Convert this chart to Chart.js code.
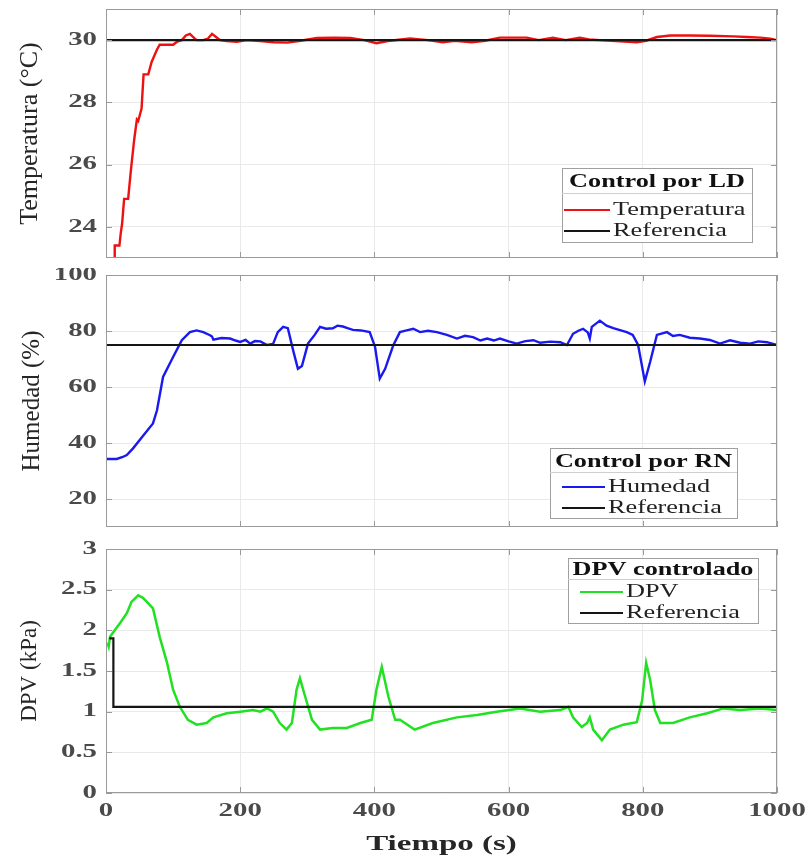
<!DOCTYPE html>
<html><head><meta charset="utf-8">
<script src="https://cdn.jsdelivr.net/npm/chart.js@4.4.0/dist/chart.umd.min.js"></script>
<style>
html,body{margin:0;padding:0;background:#fff;}
#wrap{position:relative;width:808px;height:859px;overflow:hidden;background:#fff;}
canvas{position:absolute;left:0;}
</style></head><body>
<div id="wrap">
<canvas id="c1" width="808" height="268" style="top:0px"></canvas>
<canvas id="c2" width="808" height="268" style="top:268px"></canvas>
<canvas id="c3" width="808" height="323" style="top:536px"></canvas>
</div>
<script>
// ---------- DATA ----------
const X_TICKS = [0, 200, 400, 600, 800, 1000];
const TEMP_TICKS = [24, 26, 28, 30];
const HUM_TICKS = [20, 40, 60, 80, 100];
const DPV_TICKS = [0, 0.5, 1, 1.5, 2, 2.5, 3];

const TEMP_T = [12,13,20,22,24,27,28,33,37,42, 46,48,53,56,63,68,72,76,80,90,
  100,106,113,119,125,130,135,145,152,158, 164,170,180,195,210,230,250,270,290,314,
  340,364,385,403,420,453,480,502,520,545, 565,587,610,627,645,666,685,706,720,736,
  760,791,805,821,841,870,900,935,955,975, 990,1000];
const TEMP_V = [22.9,23.4,23.4,23.8,24.1,24.9,24.9,24.9,25.8,26.8, 27.45,27.4,27.8,28.9,28.9,29.3,29.5,29.7,29.85,29.85,
  29.85,29.95,30.0,30.15,30.2,30.1,30.0,30.0,30.05,30.2, 30.1,30.0,29.97,29.95,30.0,29.97,29.93,29.92,29.98,30.07,
  30.08,30.07,30.0,29.9,29.97,30.05,30.0,29.93,29.98,29.93, 29.98,30.08,30.08,30.08,30.0,30.08,30.0,30.08,30.02,30.0,
  29.97,29.93,29.98,30.1,30.15,30.15,30.14,30.12,30.1,30.08, 30.05,30.0];
const TEMP_REF_T = [0, 1000];
const TEMP_REF_V = [30, 30];

const HUM_T = [0,16,25,31,40,55,70,76,85,100, 113,125,135,145,155,158,160,172,185,193,
  200,208,215,222,230,240,249,256,264,271, 279,286,292,301,311,319,328,338,345,353,
  360,368,380,393,401,408,416,428,438,448, 458,468,480,493,508,523,535,547,558,568,
  578,587,600,612,625,637,647,662,677,687, 696,704,711,718,721,724,736,746,756,766,
  776,785,793,803,811,821,836,845,855,870, 885,900,915,930,945,960,972,985,1000];
const HUM_V = [34.3,34.3,35,35.7,38,42.5,47,51.7,63.6,70.7, 76.7,79.6,80.2,79.6,78.5,78,76.9,77.5,77.3,76.6,
  76.1,76.8,75.5,76.4,76.3,75,75.4,79.6,81.5,81, 73,66.5,67.5,75.5,78.6,81.5,80.8,81,81.9,81.6,
  81,80.4,80.2,79.6,74.3,63,66.5,74.8,79.6,80.2, 80.8,79.6,80.1,79.6,78.6,77.3,78.3,77.8,76.6,77.3,
  76.6,77.3,76.3,75.5,76.4,76.7,75.8,76.2,76,75, 79,80.1,80.8,79.5,77.3,81.5,83.7,81.9,81,80.3,
  79.6,78.6,75,62,69,78.6,79.6,78.2,78.6,77.6, 77.3,76.8,75.5,76.7,75.8,75.5,76.3,76,75];
const HUM_REF_T = [0, 1000];
const HUM_REF_V = [75, 75];

const DPV_T = [2,4,6,13,21,31,38,48,55,61, 70,80,91,100,110,122,135,150,160,180,
  200,219,230,240,249,259,269,277,284,289, 297,307,319,338,359,379,396,403,411,421,
  431,438,460,487,523,553,582,617,647,677, 689,696,709,717,721,726,739,751,771,791,
  799,805,811,818,826,845,870,896,920,945, 975,1000];
const DPV_V = [1.85,1.8,1.92,2.0,2.09,2.21,2.35,2.43,2.4,2.35, 2.27,1.92,1.6,1.27,1.06,0.9,0.84,0.86,0.93,0.98,
  1.0,1.02,1.0,1.04,1.0,0.86,0.78,0.86,1.27,1.41, 1.18,0.9,0.78,0.8,0.8,0.86,0.9,1.27,1.55,1.18,
  0.9,0.9,0.78,0.86,0.93,0.96,1.0,1.04,1.0,1.02, 1.06,0.93,0.81,0.86,0.93,0.78,0.65,0.78,0.84,0.87,
  1.14,1.6,1.39,1.02,0.86,0.86,0.93,0.98,1.04,1.02, 1.04,1.02];
const DPV_REF_T = [5, 11, 11, 1000];
const DPV_REF_V = [1.9, 1.9, 1.06, 1.06];

// ---------- DRAWING HELPERS ----------
const SERIF = '"Liberation Serif","Times New Roman",serif';
function pts(ts, vs){ return ts.map((t,i)=>({x:t, y:vs[i]})); }
function sText(ctx, text, x, y, font, color, align, sx){
  ctx.save();
  ctx.font = font; ctx.fillStyle = color; ctx.textBaseline = 'middle'; ctx.textAlign = 'left';
  const w = ctx.measureText(text).width * sx;
  const left = align === 'right' ? x - w : (align === 'center' ? x - w/2 : x);
  ctx.translate(left, y); ctx.scale(sx, 1); ctx.fillText(text, 0, 0);
  ctx.restore();
}
const framePlugin = {
  id: 'frame',
  afterDraw(chart, args, o){
    const ctx = chart.ctx, a = chart.chartArea, xs = chart.scales.x, ys = chart.scales.y;
    ctx.save();
    ctx.strokeStyle = '#9a9a9a'; ctx.lineWidth = 1;
    ctx.strokeRect(a.left + 0.5, a.top + 0.5, a.right - a.left - 1, a.bottom - a.top - 1);
    ctx.beginPath();
    ys.ticks.forEach(t => { const p = Math.round(ys.getPixelForValue(t.value)) + 0.5;
      ctx.moveTo(a.left, p); ctx.lineTo(a.left + 6, p); ctx.moveTo(a.right, p); ctx.lineTo(a.right - 6, p); });
    xs.ticks.forEach(t => { const p = Math.round(xs.getPixelForValue(t.value)) + 0.5;
      ctx.moveTo(p, a.top); ctx.lineTo(p, a.top + 6); ctx.moveTo(p, a.bottom); ctx.lineTo(p, a.bottom - 6); });
    ctx.stroke();
    ctx.restore();
    ys.ticks.forEach(t => sText(ctx, String(t.value), 97, ys.getPixelForValue(t.value), 'bold 18px ' + SERIF, '#4a4a4a', 'right', 1.6));
    if (o.xLabels){
      xs.ticks.forEach(t => sText(ctx, String(t.value), xs.getPixelForValue(t.value), o.xLabelY, 'bold 18px ' + SERIF, '#4a4a4a', 'center', 1.6));
      sText(ctx, o.xTitle, (a.left + a.right)/2, o.xTitleY, 'bold 22px ' + SERIF, '#262626', 'center', 1.5);
    }
    const L = o.legend;
    if (L){
      ctx.save();
      ctx.fillStyle = '#fff'; ctx.fillRect(L.x, L.y, L.w, L.h);
      ctx.strokeStyle = '#a0a0a0'; ctx.lineWidth = 1; ctx.strokeRect(L.x + 0.5, L.y + 0.5, L.w, L.h);
      ctx.strokeStyle = '#cfcfcf'; ctx.beginPath(); ctx.moveTo(L.x, L.sepY + 0.5); ctx.lineTo(L.x + L.w, L.sepY + 0.5); ctx.stroke();
      ctx.restore();
      sText(ctx, L.title, L.x + L.w/2, L.titleY, 'bold 19px ' + SERIF, '#111', 'center', 1.38);
      chart.data.datasets.forEach((ds, i) => {
        const y = L.rows[i];
        ctx.save(); ctx.strokeStyle = ds.borderColor; ctx.lineWidth = 2;
        ctx.beginPath(); ctx.moveTo(L.lx1, y); ctx.lineTo(L.lx2, y); ctx.stroke(); ctx.restore();
        sText(ctx, ds.label, L.tx, y, '18px ' + SERIF, '#222', 'left', 1.46);
      });
    }
  }
};

function makeChart(id, c){
  return new Chart(document.getElementById(id), {
    type: 'line',
    data: { datasets: c.datasets },
    options: {
      responsive: false, animation: false, devicePixelRatio: 1,
      layout: { padding: { left: 0, right: 31, top: c.padTop, bottom: c.padBottom } },
      elements: { point: { radius: 0 }, line: { tension: 0 } },
      scales: {
        x: { type: 'linear', min: 0, max: 1000,
          afterBuildTicks: s => { s.ticks = X_TICKS.map(v => ({ value: v })); },
          afterFit: s => { s.height = 0; },
          ticks: { display: false },
          grid: { color: '#e9e9e9', drawTicks: false }, border: { display: false } },
        y: { type: 'linear', min: c.yMin, max: c.yMax,
          afterBuildTicks: s => { s.ticks = c.yTicks.map(v => ({ value: v })); },
          afterFit: s => { s.width = 106; },
          ticks: { display: false },
          grid: { color: '#e9e9e9', drawTicks: false }, border: { display: false },
          title: { display: true, text: c.yTitle, color: '#262626',
            font: { family: SERIF, size: c.yTitleSize }, padding: { top: c.yTitlePad, bottom: 0 } } }
      },
      plugins: {
        legend: { display: false }, tooltip: { enabled: false },
        frame: { legend: c.legend, xLabels: !!c.xLabels, xLabelY: c.xLabelY, xTitleY: c.xTitleY, xTitle: c.xTitle }
      }
    },
    plugins: [framePlugin]
  });
}

makeChart('c1', {
  yMin: 23, yMax: 31, yTicks: TEMP_TICKS, yTitle: 'Temperatura (°C)', yTitleSize: 26, yTitlePad: 15,
  padTop: 9, padBottom: 10,
  datasets: [
    { label: 'Temperatura', data: pts(TEMP_T, TEMP_V), borderColor: '#ee1111', borderWidth: 2.4, order: 1 },
    { label: 'Referencia', data: pts(TEMP_REF_T, TEMP_REF_V), borderColor: '#151515', borderWidth: 2.2, order: 0 }
  ],
  legend: { title: 'Control por LD', x: 562, y: 168, w: 190, h: 74, titleY: 182, sepY: 193, rows: [210, 231], lx1: 564, lx2: 610, tx: 613 }
});

makeChart('c2', {
  yMin: 10, yMax: 100, yTicks: HUM_TICKS, yTitle: 'Humedad (%)', yTitleSize: 25, yTitlePad: 17,
  padTop: 7, padBottom: 9,
  datasets: [
    { label: 'Humedad', data: pts(HUM_T, HUM_V), borderColor: '#1a1aee', borderWidth: 2.4, order: 1 },
    { label: 'Referencia', data: pts(HUM_REF_T, HUM_REF_V), borderColor: '#151515', borderWidth: 2.2, order: 0 }
  ],
  legend: { title: 'Control por RN', x: 550, y: 180, w: 187, h: 70, titleY: 194, sepY: 204, rows: [219, 240], lx1: 562, lx2: 605, tx: 608 }
});

makeChart('c3', {
  yMin: 0, yMax: 3, yTicks: DPV_TICKS, yTitle: 'DPV (kPa)', yTitleSize: 23, yTitlePad: 16,
  padTop: 13, padBottom: 66,
  datasets: [
    { label: 'DPV', data: pts(DPV_T, DPV_V), borderColor: '#22e022', borderWidth: 2.5, order: 1 },
    { label: 'Referencia', data: pts(DPV_REF_T, DPV_REF_V), borderColor: '#151515', borderWidth: 2.2, order: 0 }
  ],
  legend: { title: 'DPV controlado', x: 568, y: 22, w: 190, h: 65, titleY: 34, sepY: 43, rows: [56, 77], lx1: 580, lx2: 623, tx: 626 },
  xLabels: true, xLabelY: 275, xTitleY: 308, xTitle: 'Tiempo (s)'
});
</script>
</body></html>
